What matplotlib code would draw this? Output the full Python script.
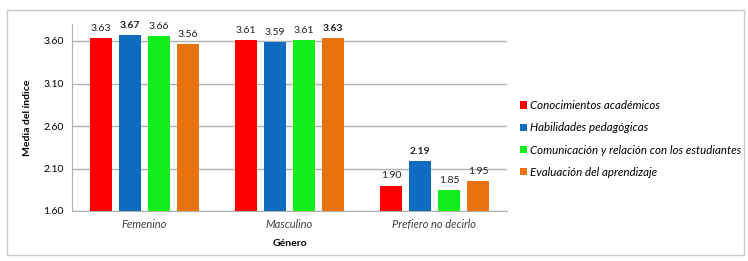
import matplotlib.pyplot as plt
import numpy as np
from matplotlib.patches import Rectangle

plt.rcParams['font.family'] = ['Lato', 'DejaVu Sans']

categories = ['Femenino', 'Masculino', 'Prefiero no decirlo']
series = ['Conocimientos académicos', 'Habilidades pedagógicas',
          'Comunicación y relación con los estudiantes', 'Evaluación del aprendizaje']
values = [
    [3.63, 3.61, 1.90],
    [3.67, 3.59, 2.19],
    [3.66, 3.61, 1.85],
    [3.56, 3.63, 1.95],
]
colors = ['#ff0000', '#0e6bbf', '#12ee1a', '#e8720c']
yticks = [1.60, 2.10, 2.60, 3.10, 3.60]

fig = plt.figure(figsize=(7.48, 2.61), dpi=100)
fig.patches.append(Rectangle((7/748, 6/261), 737/748, 245/261, transform=fig.transFigure,
                             fill=False, edgecolor='#c8c8c8', lw=1))
ax = fig.add_axes([72/748, 1 - 211/261, 435/748, (211 - 24)/261])

x = np.arange(len(categories))
width = 0.145
step = 0.2
vals = np.array(values)
for i, (name, col) in enumerate(zip(series, colors)):
    pos = x + (i - 1.5) * step
    ax.bar(pos, vals[i], width=width, bottom=0, color=col, label=name, zorder=3)
    for j, v in enumerate(vals[i]):
        bold = v == vals[:, j].max()
        ax.text(pos[j], v + 0.06, '%.2f' % v, ha='center', va='bottom', fontsize=7.5,
                fontweight='bold' if bold else 'normal', color='#222222')

ax.set_ylim(1.60, 3.80)
ax.set_xlim(-0.5, 2.5)
ax.set_yticks(yticks)
ax.set_yticklabels(['%.2f' % t for t in yticks], fontsize=7.5)
ax.set_xticks(x)
ax.set_xticklabels(categories, fontsize=8, style='italic', color='#404040')
ax.tick_params(axis='both', length=0, pad=6)
ax.yaxis.grid(True, color='#b0b0b0', lw=1, zorder=0)
for s in ['top', 'right']:
    ax.spines[s].set_visible(False)
ax.spines['left'].set_color('#b0b0b0')
ax.spines['bottom'].set_color('#b0b0b0')
ax.set_ylabel('Media del índice', fontsize=7.5, fontweight='bold', labelpad=8)
ax.set_xlabel('Género', fontsize=7.5, fontweight='bold', labelpad=6)

handles, labels = ax.get_legend_handles_labels()
fig.legend(handles, labels, loc='upper left', bbox_to_anchor=(520/748, 1 - 100/261),
           frameon=False, prop={'style': 'italic', 'size': 8.3},
           handlelength=0.6, handleheight=0.6, handletextpad=0.3, labelspacing=0.98,
           borderaxespad=0, borderpad=0)

fig.savefig('out.png', dpi=100)
